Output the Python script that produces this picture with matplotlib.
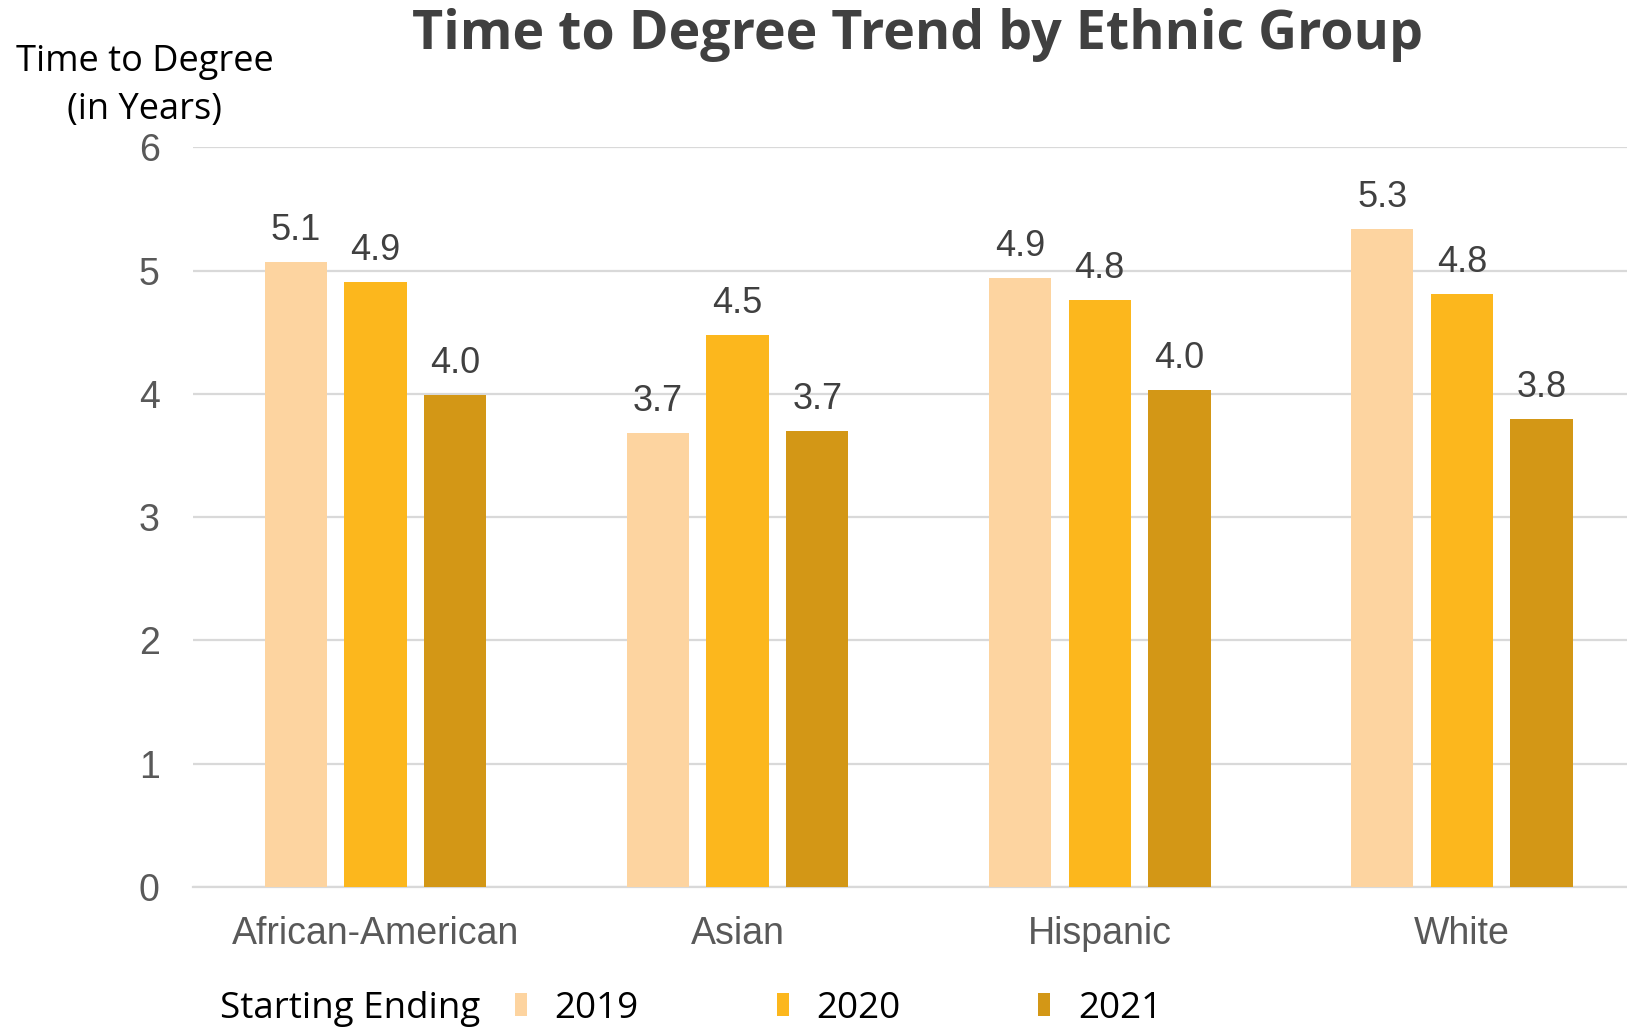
import numpy as np
import matplotlib.pyplot as plt

# time to degree (years) by ethnic group and ending year
groups = ["African-American", "Asian", "Hispanic", "White"]
years = ["2019", "2020", "2021"]
ttd_2019 = [5.07, 3.68, 4.94, 5.34]
ttd_2020 = [4.91, 4.48, 4.76, 4.81]
ttd_2021 = [3.99, 3.70, 4.03, 3.80]
colors = ["#FDD4A0", "#FCB71D", "#D39716"]

series = [ttd_2019, ttd_2020, ttd_2021]

fig = plt.figure(figsize=(16.27, 10.27), dpi=100)
ax = fig.add_axes([0.1186, 0.1363, 0.8814, 0.7203])

x = np.arange(len(groups))
width = 0.172
step = 0.22

bars = []
for i, vals in enumerate(series):
    b = ax.bar(x + (i - 1) * step, vals, width, color=colors[i], label=years[i], zorder=3)
    bars.append(b)
    for rect, v in zip(b, vals):
        ax.annotate(f"{v:.1f}", (rect.get_x() + rect.get_width() / 2, v),
                    xytext=(0, 10), textcoords="offset points",
                    ha="center", va="bottom", fontsize=26,
                    family="Liberation Sans", color="#404040")

ax.set_xlim(-0.504, 3.456)
ax.set_ylim(0, 6)
ax.set_yticks(range(7))
ax.yaxis.grid(True, color="#D9D9D9", linewidth=1.6, zorder=0)
ax.set_axisbelow(True)
for s in ["top", "right", "left"]:
    ax.spines[s].set_visible(False)
ax.spines["bottom"].set_color("#D9D9D9")
ax.spines["bottom"].set_linewidth(1.6)
ax.tick_params(axis="both", length=0, labelsize=27, labelcolor="#595959")
ax.tick_params(axis="y", pad=24)
ax.tick_params(axis="x", pad=21)
ax.set_xticks(x)
ax.set_xticklabels(groups)
for lab in ax.get_xticklabels() + ax.get_yticklabels():
    lab.set_family("Liberation Sans")

fig.text(0.564, 0.966, "Time to Degree Trend by Ethnic Group", ha="center", va="center",
         fontsize=38.7, fontweight="bold", family="Open Sans", color="#404040")
fig.text(0.089, 0.916, "Time to Degree\n(in Years)", ha="center", va="center",
         fontsize=26, family="Open Sans", color="black", linespacing=1.45)

fig.text(0.135, 0.018, "Starting Ending", ha="left", va="center",
         fontsize=26.5, family="Open Sans", color="black")
fig.legend(handles=bars, loc="center left", bbox_to_anchor=(0.2963, 0.018), ncol=3,
           frameon=False, handlelength=0.32, handleheight=0.6,
           handletextpad=0.75, columnspacing=3.75,
           prop={"family": "Open Sans", "size": 26.5})

fig.savefig("out.png", dpi=100)
